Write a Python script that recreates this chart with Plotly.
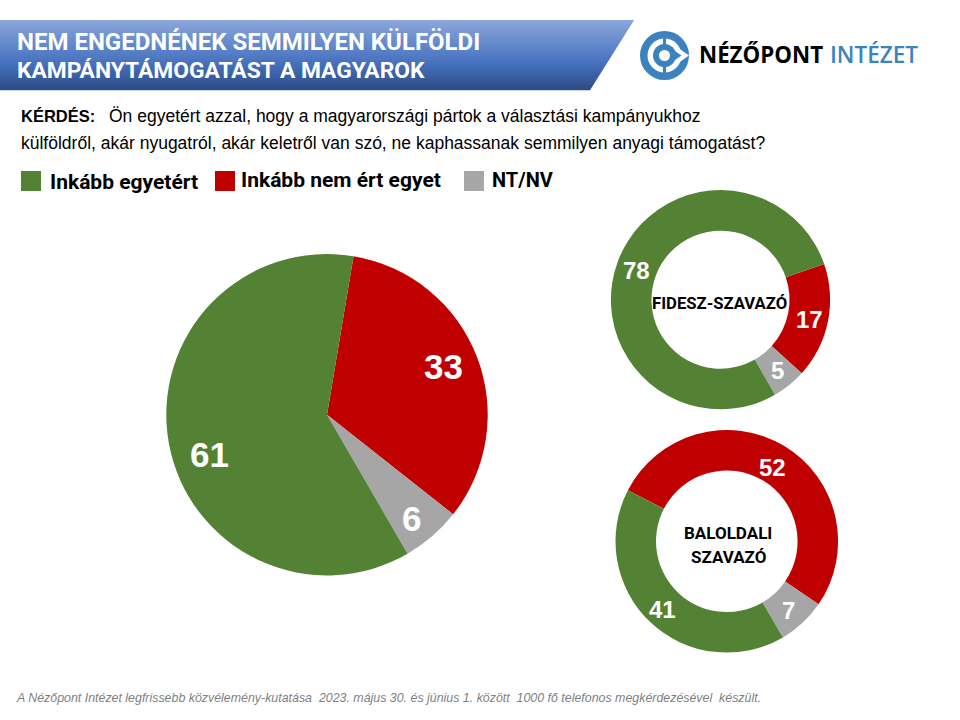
# Nezopont poll chart: one pie and two donuts plus the slide furniture
import plotly.graph_objects as go

W = 960
H = 720

labels = ["Inkább nem ért egyet", "NT/NV", "Inkább egyetért"]
colors = ["#c00000", "#a6a6a6", "#548235"]
all_voters = [33, 6, 61]
fidesz_voters = [17, 5, 78]
left_voters = [52, 7, 41]

title_lines = ["NEM ENGEDNÉNEK SEMMILYEN KÜLFÖLDI", "KAMPÁNYTÁMOGATÁST A MAGYAROK"]
question_lines = ["Ön egyetért azzal, hogy a magyarországi pártok a választási kampányukhoz",
                  "külföldről, akár nyugatról, akár keletről van szó, ne kaphassanak semmilyen anyagi támogatást?"]
footnote = "A Nézőpont Intézet legfrissebb közvélemény-kutatása  2023. május 30. és június 1. között  1000 fő telefonos megkérdezésével  készült."


def px(x):
    return x / W


def py(y):
    return 1 - y / H


def pie(values, cx, cy, r, rotation, hole=0):
    return go.Pie(
        labels=labels, values=values, sort=False, direction="clockwise", rotation=rotation,
        hole=hole, marker=dict(colors=colors, line=dict(width=0)), textinfo="none",
        hoverinfo="label+value", showlegend=False,
        domain=dict(x=[px(cx - r), px(cx + r)], y=[py(cy + r), py(cy - r)]),
    )


fig = go.Figure()
fig.add_trace(pie(all_voters, 327, 414.7, 160.7, 9.5))
fig.add_trace(pie(fidesz_voters, 720.5, 299.7, 109.6, 71, 0.63))
fig.add_trace(pie(left_voters, 726.8, 541.3, 111.3, 297.3, 0.636))

texts = []


def text(x, y, s, size, color="black", family="Liberation Sans", bold=False, italic=False, anchor="left", weight=None):
    texts.append(dict(
        x=px(x), y=py(y), xref="paper", yref="paper", text=f"<b>{s}</b>" if bold else s,
        showarrow=False, xanchor=anchor, yanchor="middle", align="center", borderpad=0, borderwidth=0,
        font=dict(size=size, color=color, family=family, style="italic" if italic else "normal",
                  weight=weight if weight else "normal"),
    ))


# values on the slices
for v, x, y, size in [(all_voters[0], 443, 366, 35), (all_voters[1], 411, 518, 35), (all_voters[2], 209, 454, 35),
                      (fidesz_voters[0], 809, 319, 24), (fidesz_voters[1], 777, 371, 24), (fidesz_voters[2], 636, 270, 24),
                      (left_voters[0], 772, 467, 24), (left_voters[1], 788, 610, 24), (left_voters[2], 662, 609, 24)]:
    text(x, y, str(v), size, "white", bold=True, anchor="center")

text(719, 303, "FIDESZ-SZAVAZÓ", 16.7, family="Roboto", bold=True, anchor="center")
text(728, 533, "BALOLDALI", 17, family="Roboto", bold=True, anchor="center")
text(728, 557, "SZAVAZÓ", 17, family="Roboto", bold=True, anchor="center")

# header text
text(17, 42, title_lines[0], 24, "white", "Roboto", bold=True)
text(17, 71, title_lines[1], 22.8, "white", "Roboto", bold=True)
text(21, 116, "KÉRDÉS:", 16.5, bold=True)
text(109, 116, question_lines[0], 17.5)
text(21, 143, question_lines[1], 17.5)

# legend
for key, tx, ty, size in [(2, 50, 182, 21), (0, 241, 180, 21), (1, 492, 180, 20)]:
    text(tx, ty, labels[key], size, family="Roboto", bold=True)

# logo text and footnote
text(699, 55, "NÉZŐPONT", 22.3, family="Open Sans", bold=True)
text(830, 55, "INTÉZET", 22.5, "#3b83c0", "Open Sans", weight=600)
text(16, 698, footnote, 12.4, "#7f7f7f", italic=True)

shapes = []

# header band, one stripe per pixel row because shapes have no gradient
top = (138, 166, 220)
mid = (71, 114, 190)
bottom = (44, 74, 132)
for row in range(20, 90):
    t = (row - 20) / 70
    if t < 0.6:
        c = [top[i] + (mid[i] - top[i]) * t / 0.6 for i in range(3)]
    else:
        c = [mid[i] + (bottom[i] - mid[i]) * (t - 0.6) / 0.4 for i in range(3)]
    edge = 634 - (row - 20) * 44 / 70
    shapes.append(dict(
        type="path", xref="paper", yref="paper", line=dict(width=0),
        fillcolor=f"rgb({c[0]:.0f},{c[1]:.0f},{c[2]:.0f})",
        path=f"M 0 {py(row)} L {px(edge)} {py(row)} L {px(edge - 44 / 70)} {py(row + 1.3)} L 0 {py(row + 1.3)} Z",
    ))

# legend squares
for x, y, key in [(21, 171, 2), (215, 171, 0), (464, 171, 1)]:
    shapes.append(dict(type="rect", xref="paper", yref="paper", x0=px(x), x1=px(x + 20), y0=py(y), y1=py(y + 20),
                       fillcolor=colors[key], line=dict(width=0)))


def circle(cx, cy, r, color):
    shapes.append(dict(type="circle", xref="paper", yref="paper", x0=px(cx - r), x1=px(cx + r),
                       y0=py(cy + r), y1=py(cy - r), fillcolor=color, line=dict(width=0)))


def poly(points, color):
    d = " L ".join(f"{px(x)} {py(y)}" for x, y in points)
    shapes.append(dict(type="path", xref="paper", yref="paper", path=f"M {d} Z", fillcolor=color, line=dict(width=0)))


# logo
lx, ly = 664.5, 55.5
blue = "#3b83c0"
circle(lx, ly, 24.5, blue)
circle(lx, ly, 17, "white")
poly([(lx, ly - 17), (lx + 24.5, ly), (lx, ly + 17)], "white")
circle(lx, ly, 11.5, blue)
poly([(lx, ly - 11.5), (lx + 17, ly), (lx, ly + 11.5)], blue)
poly([(lx - 1.5, ly - 18), (lx + 1.5, ly - 18), (lx + 1.5, ly - 10), (lx - 1.5, ly - 10)], blue)
poly([(lx - 1.5, ly + 18), (lx + 1.5, ly + 18), (lx + 1.5, ly + 10), (lx - 1.5, ly + 10)], blue)
circle(lx, ly, 5.5, "white")

fig.update_layout(
    width=W, height=H, margin=dict(l=0, r=0, t=0, b=0),
    paper_bgcolor="white", plot_bgcolor="white",
    annotations=texts, shapes=shapes,
)
fig.write_html("out.html", config=dict(displayModeBar=False), post_script="document.body.style.margin='0';")
